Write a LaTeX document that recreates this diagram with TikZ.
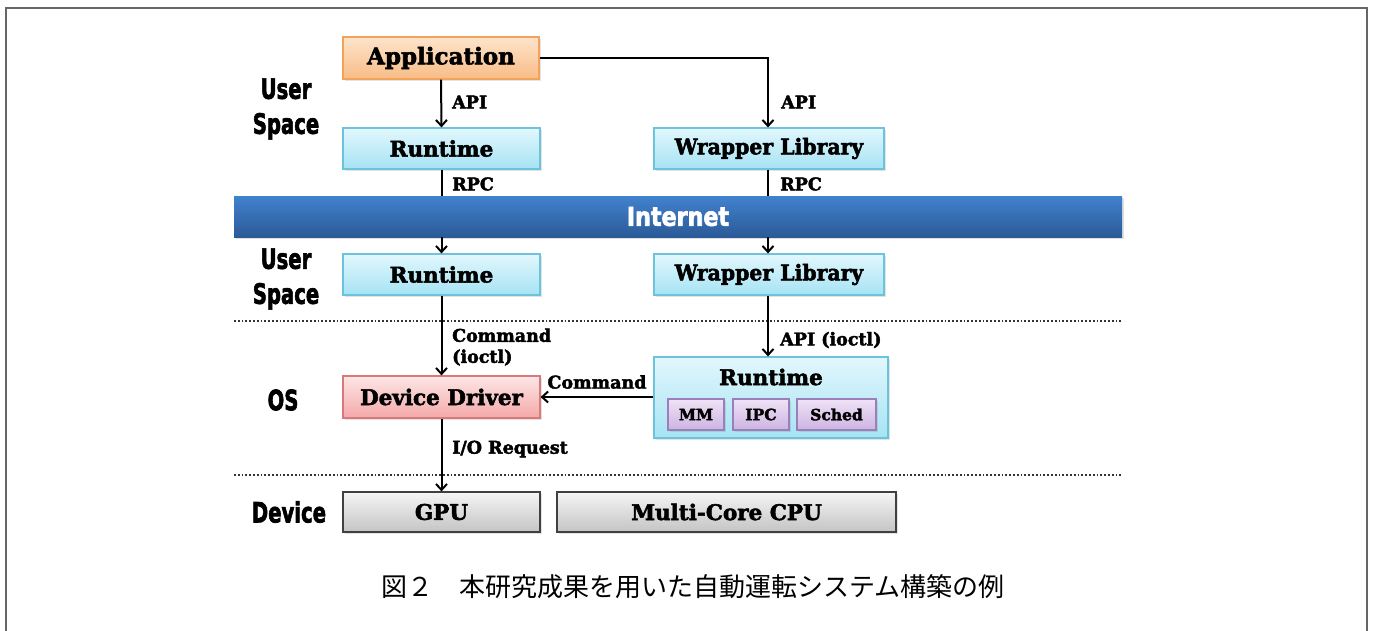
\documentclass[tikz,border=0pt]{standalone}
\usepackage{fontspec}
\setmainfont{DejaVu Serif}[BoldFeatures={FakeBold=2.4}]
\newfontfamily\heavysans{DejaVu Sans Condensed}[BoldFont={DejaVu Sans Condensed Bold},BoldFeatures={FakeBold=2.5}]
\newfontfamily\cjk{Noto Sans CJK JP}
\usetikzlibrary{arrows.meta,shadows}
\definecolor{framec}{HTML}{666666}
\definecolor{apptop}{HTML}{FDE4CC}
\definecolor{appbot}{HTML}{F9BC86}
\definecolor{appbd}{HTML}{F2A35A}
\definecolor{cyantop}{HTML}{E2F7FD}
\definecolor{cyanbot}{HTML}{A6E3F4}
\definecolor{cyanbd}{HTML}{6CC3DC}
\definecolor{pinktop}{HTML}{FDE6E6}
\definecolor{pinkbot}{HTML}{F4A8A8}
\definecolor{pinkbd}{HTML}{D87A7A}
\definecolor{purtop}{HTML}{EFE2F6}
\definecolor{purbot}{HTML}{CDB4E2}
\definecolor{purbd}{HTML}{9B7FB8}
\definecolor{graytop}{HTML}{F5F5F5}
\definecolor{graybot}{HTML}{C4C4C4}
\definecolor{graybd}{HTML}{404040}
\definecolor{inettop}{HTML}{4182CE}
\definecolor{inetbot}{HTML}{2B5A98}
\begin{document}
\begin{tikzpicture}[x=1pt,y=-1pt,
  basebox/.style={rectangle, line width=1.2pt, inner sep=0pt,
    drop shadow={opacity=0.22, shadow xshift=1.5pt, shadow yshift=-1.5pt},
    font=\fontsize{21.5}{24}\selectfont\bfseries},
  appbox/.style={basebox, draw=appbd, top color=apptop, bottom color=appbot,
    font=\fontsize{23}{26}\selectfont\bfseries},
  cyanbox/.style={basebox, draw=cyanbd, top color=cyantop, bottom color=cyanbot},
  pinkbox/.style={basebox, draw=pinkbd, top color=pinktop, bottom color=pinkbot},
  purbox/.style={basebox, draw=purbd, top color=purtop, bottom color=purbot,
    font=\fontsize{15.5}{18}\selectfont\bfseries},
  graybox/.style={basebox, draw=graybd, top color=graytop, bottom color=graybot},
  inetbox/.style={rectangle, inner sep=0pt, top color=inettop, bottom color=inetbot,
    drop shadow={opacity=0.25, shadow xshift=1.5pt, shadow yshift=-1.5pt},
    text=white, font=\heavysans\fontsize{26}{28}\selectfont\bfseries},
  lbl/.style={anchor=west, inner sep=0pt, align=left,
    font=\fontsize{17.5}{21}\selectfont\bfseries},
  layer/.style={align=center, inner sep=0pt,
    font=\heavysans\fontsize{28}{35}\selectfont\bfseries},
  arr/.style={line width=2pt, -{Straight Barb[length=6pt,width=11pt,line width=2pt]}},
  conn/.style={line width=2pt},
  sep/.style={line width=1.8pt, dotted, color=black!80}
]
\useasboundingbox (0,0) rectangle (1373,630);
\draw[framec, line width=1.4pt] (6,645) -- (6,8) -- (1367,8) -- (1367,645);

% layer labels
\node[layer] (us1) at (286,109) {\scalebox{0.78}[1]{User}\\\scalebox{0.78}[1]{Space}};
\node[layer] (us2) at (286,279) {\scalebox{0.78}[1]{User}\\\scalebox{0.78}[1]{Space}};
\node[layer] (os) at (283,400) {\scalebox{0.78}[1]{OS}};
\node[layer] (dev) at (289,512) {\scalebox{0.78}[1]{Device}};

% boxes
\node[appbox, minimum width=196pt, minimum height=42pt] (app) at (441,58) {Application};
\node[cyanbox, minimum width=197pt, minimum height=41pt] (rt1) at (441.5,148.5) {Runtime};
\node[cyanbox, minimum width=230pt, minimum height=41pt] (wl1) at (769,148.5) {\scalebox{0.95}[1]{Wrapper Library}};
\node[inetbox, minimum width=888pt, minimum height=41pt] (inet) at (678,216.5) {\scalebox{0.95}[1]{Internet}};
\node[cyanbox, minimum width=197pt, minimum height=41pt] (rt2) at (441.5,274.5) {Runtime};
\node[cyanbox, minimum width=230pt, minimum height=41pt] (wl2) at (769,274.5) {\scalebox{0.95}[1]{Wrapper Library}};
\node[pinkbox, minimum width=197pt, minimum height=42pt] (dd) at (441.5,397) {Device Driver};
\node[cyanbox, minimum width=234pt, minimum height=81pt] (rt3) at (771,397.5) {};
\node[inner sep=0pt, font=\fontsize{21.5}{24}\selectfont\bfseries] (rt3t) at (771,377) {Runtime};
\node[purbox, minimum width=56pt, minimum height=31pt] (mm) at (696,414.5) {MM};
\node[purbox, minimum width=56pt, minimum height=31pt] (ipc) at (761,414.5) {IPC};
\node[purbox, minimum width=79pt, minimum height=31pt] (sched) at (836.5,414.5) {Sched};
\node[graybox, minimum width=197pt, minimum height=40pt] (gpu) at (441.5,512) {GPU};
\node[graybox, minimum width=339pt, minimum height=40pt] (cpu) at (726.5,512) {Multi-Core CPU};

% separators
\coordinate (s1a) at (234,321); \coordinate (s1b) at (1122,321);
\coordinate (s2a) at (234,475); \coordinate (s2b) at (1122,475);
\draw[sep] (s1a) -- (s1b);
\draw[sep] (s2a) -- (s2b);

% connectors
\draw[arr] (app.south) -- (rt1.north);
\draw[arr] (app.east) -| ([xshift=-1pt]wl1.north);
\draw[conn] (rt1.south) -- (rt1.south |- inet.north);
\draw[conn] ([xshift=-1pt]wl1.south) -- ([xshift=-1pt]wl1.south |- inet.north);
\draw[arr] (rt2.north |- inet.south) -- (rt2.north);
\draw[arr] ([xshift=-1pt]wl2.north |- inet.south) -- ([xshift=-1pt]wl2.north);
\draw[arr] (rt2.south) -- (dd.north);
\draw[arr] ([xshift=-1pt]wl2.south) -- ([xshift=-1pt]wl2.south |- rt3.north);
\draw[arr] (rt3.west |- dd.east) -- (dd.east);
\draw[arr] (dd.south) -- (gpu.north);

% connector labels
\node[lbl] (l1) at (452,102) {API};
\node[lbl] (l2) at (781,102) {API};
\node[lbl] (l3) at (452,184) {RPC};
\node[lbl] (l4) at (780,184) {RPC};
\node[lbl] (l5) at (452,347) {Command\\(ioctl)};
\node[lbl] (l6) at (780,340) {API (ioctl)};
\node[lbl, anchor=center] (l7) at (597,382) {Command};
\node[lbl] (l8) at (452,449) {I/O Request};

% caption
\node[inner sep=0pt, font=\cjk\fontsize{26}{30}\selectfont] (cap) at (693,587) {図２　本研究成果を用いた自動運転システム構築の例};
\end{tikzpicture}
\end{document}
